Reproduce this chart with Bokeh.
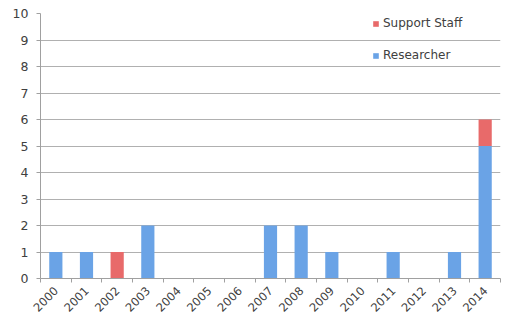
import math
from bokeh.plotting import figure
from bokeh.models import Range1d, FixedTicker, Legend, LegendItem, ColumnDataSource
from bokeh.embed import file_html
from bokeh.resources import INLINE

years = ["2000", "2001", "2002", "2003", "2004", "2005", "2006", "2007",
         "2008", "2009", "2010", "2011", "2012", "2013", "2014"]
researcher = [1, 1, 0, 2, 0, 0, 0, 2, 2, 1, 0, 1, 0, 1, 5]
support_staff = [0, 0, 1, 0, 0, 0, 0, 0, 0, 0, 0, 0, 0, 0, 1]
y_ticks = list(range(0, 11))

xs = list(range(len(years)))
src = ColumnDataSource(dict(x=xs, Researcher=researcher, Support=support_staff))

p = figure(width=507, height=328, output_backend="svg", toolbar_location=None,
           x_range=Range1d(-0.5, len(years) - 0.5), y_range=Range1d(0, 10),
           min_border_left=40, min_border_right=7, min_border_top=13, min_border_bottom=50)
p.outline_line_color = None
p.background_fill_color = "white"
p.border_fill_color = "white"

r = p.vbar_stack(["Researcher", "Support"], x="x", width=0.43, source=src,
                 color=["#6aa3e6", "#e86a6a"], line_color=None)

font = "DejaVu Sans"
# x axis
xa = p.xaxis[0]
xa.ticker = FixedTicker(ticks=xs, minor_ticks=[i - 0.5 for i in range(len(years) + 1)])
xa.major_label_overrides = {i: y for i, y in enumerate(years)}
xa.major_tick_out = 0
xa.major_tick_in = 0
xa.minor_tick_out = 4
xa.minor_tick_in = 0
xa.minor_tick_line_color = "#a0a0a0"
xa.axis_line_color = "#a0a0a0"
xa.major_label_orientation = math.pi / 4
xa.major_label_text_font = font
xa.major_label_text_font_size = "11.5px"
xa.major_label_text_color = "#404040"
xa.major_label_standoff = 6

ya = p.yaxis[0]
ya.ticker = FixedTicker(ticks=y_ticks, minor_ticks=[])
ya.major_tick_out = 4
ya.major_tick_in = 0
ya.major_tick_line_color = "#a0a0a0"
ya.axis_line_color = "#a0a0a0"
ya.major_label_text_font = font
ya.major_label_text_font_size = "12.5px"
ya.major_label_text_color = "#404040"
ya.major_label_standoff = 8

p.xgrid.grid_line_color = None
p.ygrid.ticker = FixedTicker(ticks=y_ticks)
p.ygrid.grid_line_color = "#b0b0b0"

legend = Legend(items=[LegendItem(label="Support Staff", renderers=[r[1]]),
                       LegendItem(label="Researcher", renderers=[r[0]])],
                location=(332, 216), orientation="vertical")
legend.glyph_width = 7
legend.glyph_height = 7
legend.label_height = 14
legend.spacing = 18
legend.padding = 0
legend.margin = 0
legend.label_standoff = 4
legend.border_line_color = None
legend.background_fill_alpha = 0
legend.label_text_font = font
legend.label_text_font_size = "12px"
legend.label_text_color = "#404040"
p.add_layout(legend)

open("out.html", "w").write(file_html(p, INLINE))
